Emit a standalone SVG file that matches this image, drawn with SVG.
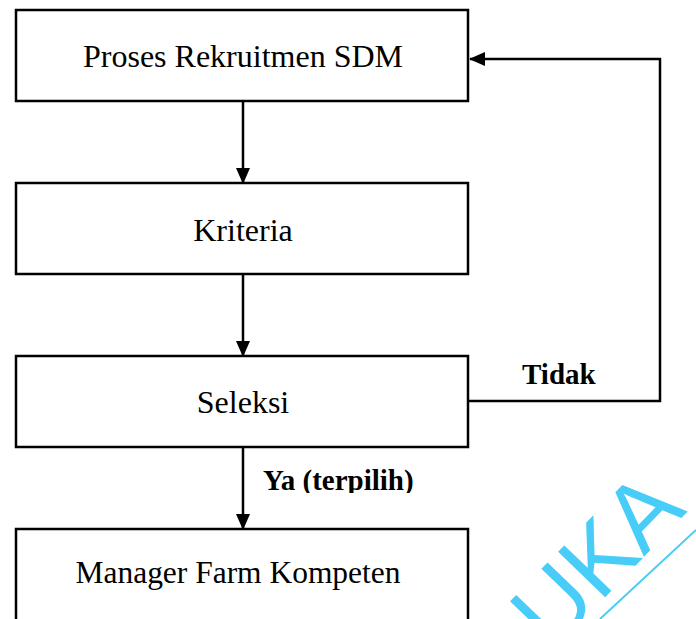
<svg xmlns="http://www.w3.org/2000/svg" width="696" height="619" viewBox="0 0 696 619">
  <style>
    .box { fill: #ffffff; stroke: #000000; stroke-width: 2.5; }
    .lbl { font-family: "Liberation Serif", "Times New Roman", serif; font-size: 32px; fill: #000000; text-anchor: middle; }
    .bold { font-family: "Liberation Serif", "Times New Roman", serif; font-size: 29px; font-weight: bold; fill: #000000; }
    .wire { fill: none; stroke: #000000; stroke-width: 2.5; }
  </style>
  <defs>
    <marker id="head" markerUnits="userSpaceOnUse" markerWidth="16" markerHeight="16" viewBox="0 0 16 14" refX="15" refY="7" orient="auto">
      <path d="M0,0 L16,7 L0,14 Z" fill="#000000"/>
    </marker>
    <clipPath id="yaClip">
      <rect x="250" y="460" width="200" height="33"/>
    </clipPath>
  </defs>
  <rect width="696" height="619" fill="#ffffff"/>

  <!-- faint grey marks at the lower edge -->
  <rect x="77" y="608" width="55" height="11" fill="#ececec"/>
  <rect x="248" y="608" width="25" height="11" fill="#ececec"/>

  <g id="n1">
    <rect class="box" x="16" y="10" width="452" height="91"/>
    <text class="lbl" x="243" y="67" textLength="320" lengthAdjust="spacingAndGlyphs">Proses Rekruitmen SDM</text>
  </g>
  <g id="n2">
    <rect class="box" x="16" y="183" width="452" height="91"/>
    <text class="lbl" x="243" y="241">Kriteria</text>
  </g>
  <g id="n3">
    <rect class="box" x="16" y="356" width="452" height="91"/>
    <text class="lbl" x="243" y="413">Seleksi</text>
  </g>
  <g id="n4">
    <rect class="box" x="16" y="529" width="452" height="100"/>
    <text class="lbl" x="238" y="583" textLength="325" lengthAdjust="spacingAndGlyphs">Manager Farm Kompeten</text>
  </g>

  <g id="connectors">
    <line class="wire" x1="243" y1="101" x2="243" y2="183" marker-end="url(#head)"/>
    <line class="wire" x1="243" y1="274" x2="243" y2="356" marker-end="url(#head)"/>
    <line class="wire" x1="243" y1="447" x2="243" y2="529" marker-end="url(#head)"/>
    <polyline class="wire" points="468,401 660,401 660,59 470,59" marker-end="url(#head)"/>
    <text class="bold" x="522" y="384">Tidak</text>
    <text class="bold" x="263" y="490" clip-path="url(#yaClip)">Ya (terpilih)</text>
  </g>

  <!-- cyan overlay lettering -->
  <g transform="translate(552,652) rotate(-46)" fill="#47cdf7">
    <text x="0" y="0" font-family="Liberation Sans, Arial, sans-serif" font-size="95">UKA</text>
  </g>
  <line x1="600" y1="619" x2="696" y2="530" stroke="#47cdf7" stroke-width="2"/>
</svg>
